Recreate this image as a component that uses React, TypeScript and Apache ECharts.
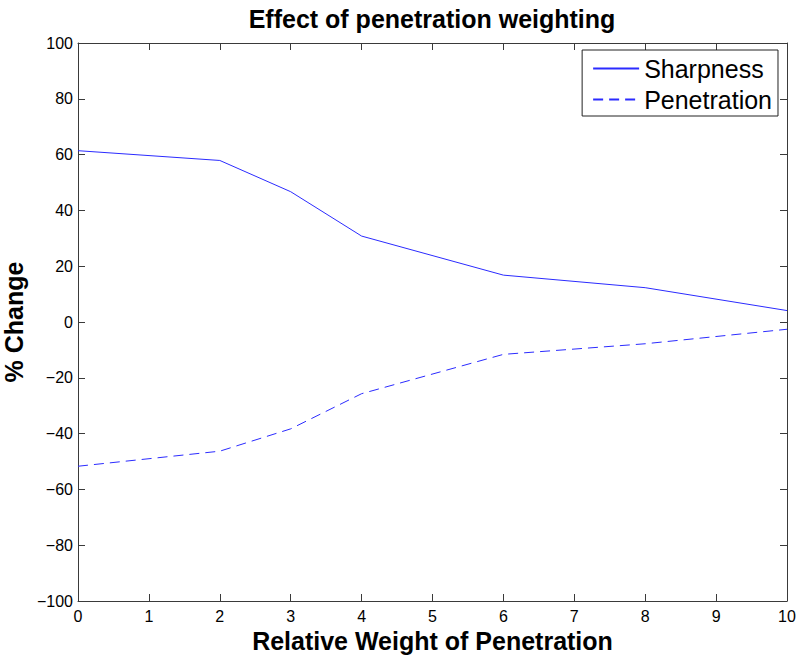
import React, { useEffect, useRef } from "react";
import * as echarts from "echarts";

const xValues = [0, 2, 3, 4, 6, 8, 10];
const sharpness = [61.4, 57.9, 46.7, 30.8, 16.8, 12.3, 4.1];
const penetration = [-51.7, -46.3, -38.3, -25.7, -11.6, -7.8, -2.6];
const seriesNames = ["Sharpness", "Penetration"];
const titleText = "Effect of penetration weighting";
const xName = "Relative Weight of Penetration";
const yName = "% Change";

const FONT = '"Liberation Sans", Arial, Helvetica, sans-serif';
const AX = "#3a3a3a";
const BLUE = "#2b2bff";

export default function App() {
  const ref = useRef<HTMLDivElement>(null);
  useEffect(() => {
    if (!ref.current) return;
    const chart = echarts.init(ref.current, null, { renderer: "svg" });
    const minus = (v: number) => String(v).replace("-", "\u2212");
    const baseX = {
      type: "value",
      min: 0,
      max: 10,
      interval: 1,
      axisLine: { show: true, onZero: false, lineStyle: { color: AX, width: 1 } },
      axisTick: { show: true, inside: true, length: 7, lineStyle: { color: AX } },
      splitLine: { show: false },
    };
    const baseY = {
      type: "value",
      min: -100,
      max: 100,
      interval: 20,
      axisLine: { show: true, onZero: false, lineStyle: { color: AX, width: 1 } },
      axisTick: { show: true, inside: true, length: 7, lineStyle: { color: AX } },
      splitLine: { show: false },
    };
    chart.setOption({
      animation: false,
      backgroundColor: "#fff",
      textStyle: { fontFamily: FONT },
      title: {
        text: titleText,
        left: 432,
        textAlign: "center",
        top: 6,
        padding: 0,
        textStyle: { fontFamily: FONT, fontSize: 25, fontWeight: "bold", color: "#000" },
      },
      grid: { left: 78, right: 13, top: 43, bottom: 55, outerBoundsMode: "none", containLabel: false },
      legend: {
        orient: "vertical",
        right: 22,
        top: 50,
        backgroundColor: "#fff",
        borderColor: "#222",
        borderWidth: 1,
        borderRadius: 0,
        padding: [6, 6, 4, 10],
        itemWidth: 46,
        itemHeight: 14,
        itemGap: 6,
        data: seriesNames,
        itemStyle: { opacity: 0 },
        textStyle: { fontFamily: FONT, fontSize: 25, lineHeight: 25, color: "#000" },
      },
      xAxis: [
        {
          ...baseX,
          position: "bottom",
          name: xName,
          nameLocation: "middle",
          nameGap: 27,
          nameTextStyle: { fontFamily: FONT, fontSize: 25, fontWeight: "bold", color: "#000" },
          axisLabel: { show: true, margin: 7, fontSize: 16, color: "#000", fontFamily: FONT },
        },
        {
          ...baseX,
          position: "top",
          axisLabel: { show: false },
        },
      ],
      yAxis: [
        {
          ...baseY,
          position: "left",
          name: yName,
          nameLocation: "middle",
          nameGap: 46,
          nameTextStyle: { fontFamily: FONT, fontSize: 25, fontWeight: "bold", color: "#000" },
          axisLabel: { show: true, margin: 5, fontSize: 16, color: "#000", fontFamily: FONT, formatter: minus },
        },
        {
          ...baseY,
          position: "right",
          axisLabel: { show: false },
        },
      ],
      series: [
        {
          name: seriesNames[0],
          type: "line",
          data: xValues.map((x, i) => [x, sharpness[i]]),
          symbol: "none",
          lineStyle: { color: BLUE, width: 1, type: "solid" },
          itemStyle: { color: BLUE },
        },
        {
          name: seriesNames[1],
          type: "line",
          data: xValues.map((x, i) => [x, penetration[i]]),
          symbol: "none",
          lineStyle: { color: BLUE, width: 1, type: [10, 6] },
          itemStyle: { color: BLUE },
        },
      ],
    });
    return () => chart.dispose();
  }, []);
  return <div ref={ref} style={{ width: 800, height: 656, position: "absolute", left: 0, top: 0 }} />;
}
